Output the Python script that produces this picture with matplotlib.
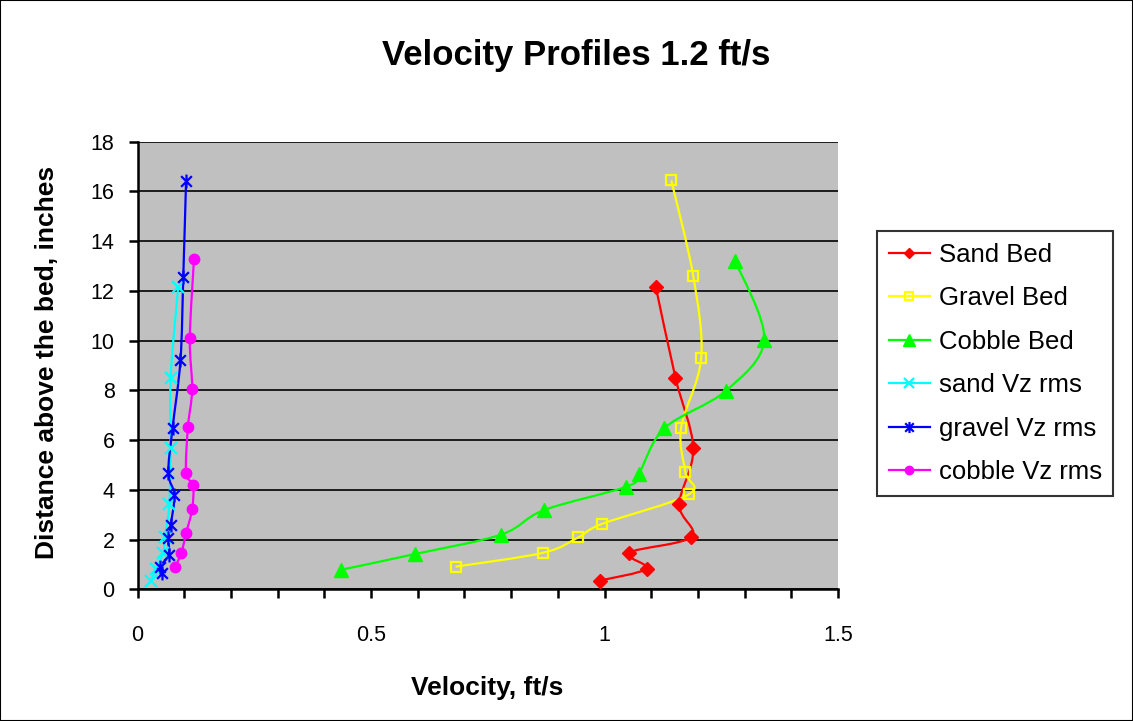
import numpy as np
import matplotlib
matplotlib.use("Agg")
import matplotlib.pyplot as plt
from matplotlib.path import Path
from matplotlib.patches import PathPatch, Rectangle
from matplotlib.lines import Line2D
from matplotlib.ticker import MultipleLocator, FixedLocator

plt.rcParams['font.family'] = ['Liberation Sans', 'DejaVu Sans']

# ---------------- data ----------------
sand_z = [0.35, 0.83, 1.47, 2.11, 3.41, 5.66, 8.5, 12.14]
sand_v = [0.99, 1.09, 1.053, 1.186, 1.16, 1.19, 1.152, 1.11]

gravel_z = [0.91, 1.47, 2.09, 2.63, 3.82, 4.72, 6.49, 9.29, 12.6, 16.44]
gravel_v = [0.681, 0.869, 0.944, 0.995, 1.181, 1.173, 1.164, 1.207, 1.19, 1.143]

cobble_z = [0.78, 1.42, 2.2, 3.18, 4.12, 4.62, 6.47, 7.98, 10.04, 13.2]
cobble_v = [0.435, 0.595, 0.779, 0.870, 1.046, 1.073, 1.128, 1.260, 1.342, 1.280]

sand_rms_v = [0.028, 0.040, 0.055, 0.059, 0.068, 0.071, 0.071, 0.087]
gravel_rms_z = [0.64, 0.91, 1.38, 2.05, 2.58, 3.79, 4.68, 6.47, 9.21, 12.55, 16.41]
gravel_rms_v = [0.053, 0.048, 0.067, 0.066, 0.071, 0.079, 0.066, 0.075, 0.092, 0.098, 0.104]
cobble_rms_z = [0.88, 1.47, 2.25, 3.22, 4.19, 4.68, 6.53, 8.04, 10.1, 13.28]
cobble_rms_v = [0.080, 0.094, 0.104, 0.117, 0.119, 0.104, 0.108, 0.117, 0.112, 0.121]

labels = ["Sand Bed", "Gravel Bed", "Cobble Bed", "sand Vz rms", "gravel Vz rms", "cobble Vz rms"]
colors = ["#FF0000", "#FFFF00", "#00FF00", "#00FFFF", "#0000FF", "#FF00FF"]
x_ticks = [0, 0.5, 1.0, 1.5]
x_tick_labels = ['0', '0.5', '1', '1.5']

# asterisk marker (x plus vertical bar)
ast = Path([(-1, -1), (1, 1), (-1, 1), (1, -1), (0, -1.3), (0, 1.3)],
           [Path.MOVETO, Path.LINETO, Path.MOVETO, Path.LINETO, Path.MOVETO, Path.LINETO])

series = [
    (sand_v, sand_z, dict(marker='D', ms=7, mfc=colors[0], mec=colors[0])),
    (gravel_v, gravel_z, dict(marker='s', ms=7, mfc='none', mec=colors[1], mew=1.6)),
    (cobble_v, cobble_z, dict(marker='^', ms=10, mfc=colors[2], mec=colors[2])),
    (sand_rms_v, sand_z, dict(marker='x', ms=9, mec=colors[3], mew=1.6)),
    (gravel_rms_v, gravel_rms_z, dict(marker=ast, ms=10, mec=colors[4], mew=1.6)),
    (cobble_rms_v, cobble_rms_z, dict(marker='o', ms=7.5, mfc=colors[5], mec=colors[5])),
]


def smooth_path(x, y):
    pts = np.column_stack([x, y]).astype(float)
    n = len(pts)
    verts = [pts[0]]
    codes = [Path.MOVETO]
    for i in range(n - 1):
        p0 = pts[i - 1] if i > 0 else pts[i]
        p1 = pts[i]
        p2 = pts[i + 1]
        p3 = pts[i + 2] if i + 2 < n else pts[i + 1]
        c1 = p1 + (p2 - p0) / 6.0
        c2 = p2 - (p3 - p1) / 6.0
        verts += [c1, c2, p2]
        codes += [Path.CURVE4] * 3
    return Path(verts, codes)


W, H = 1133, 721
fig = plt.figure(figsize=(W / 100, H / 100), dpi=100)
ax = fig.add_axes([137.5 / W, 1 - 589.3 / H, 700.5 / W, (589.3 - 141.5) / H])
ax.set_facecolor('#C0C0C0')
ax.set_xlim(0, 1.5)
ax.set_ylim(0, 18)

ax.yaxis.set_major_locator(MultipleLocator(2))
ax.xaxis.set_major_locator(FixedLocator(x_ticks))
ax.xaxis.set_minor_locator(MultipleLocator(0.1))
ax.set_xticklabels(x_tick_labels)
ax.grid(axis='y', color='black', lw=1.2)
ax.set_axisbelow(True)
for s in ['top', 'right']:
    ax.spines[s].set_visible(False)
for s in ['left', 'bottom']:
    ax.spines[s].set_linewidth(1.8)
ax.tick_params(axis='both', which='both', direction='out', length=6.5, width=1.8, labelsize=15.5)
ax.tick_params(axis='y', pad=10)
ax.tick_params(axis='x', pad=19)

handles = []
for (xv, yv, mk), lab, col in zip(series, labels, colors):
    ax.add_patch(PathPatch(smooth_path(xv, yv), fc='none', ec=col, lw=1.6, zorder=3))
    ax.plot(xv, yv, ls='none', zorder=4, clip_on=False, **mk)
    handles.append(Line2D([], [], color=col, lw=1.6, **mk))

fig.text(576 / W, 1 - 55 / H, "Velocity Profiles 1.2 ft/s", ha='center', va='center',
         fontsize=25, fontweight='bold')
fig.text(487 / W, 1 - 688 / H, "Velocity, ft/s", ha='center', va='center',
         fontsize=19, fontweight='bold')
fig.text(47 / W, 1 - 362 / H, "Distance above the bed, inches", ha='center', va='center',
         rotation=90, fontsize=19, fontweight='bold')

leg = fig.legend(handles, labels, loc='upper left', bbox_to_anchor=(877 / W, 1 - 231 / H),
                 fontsize=18.5, frameon=True, fancybox=False, edgecolor='black',
                 handlelength=1.6, handletextpad=0.35, labelspacing=0.76, borderpad=0.45,
                 borderaxespad=0, markerscale=0.8)
leg.get_frame().set_linewidth(1.5)

fig.patches.append(Rectangle((0, 0), 1, 1, transform=fig.transFigure, fill=False,
                             ec='black', lw=1.5))
fig.savefig("out.png", dpi=100)
